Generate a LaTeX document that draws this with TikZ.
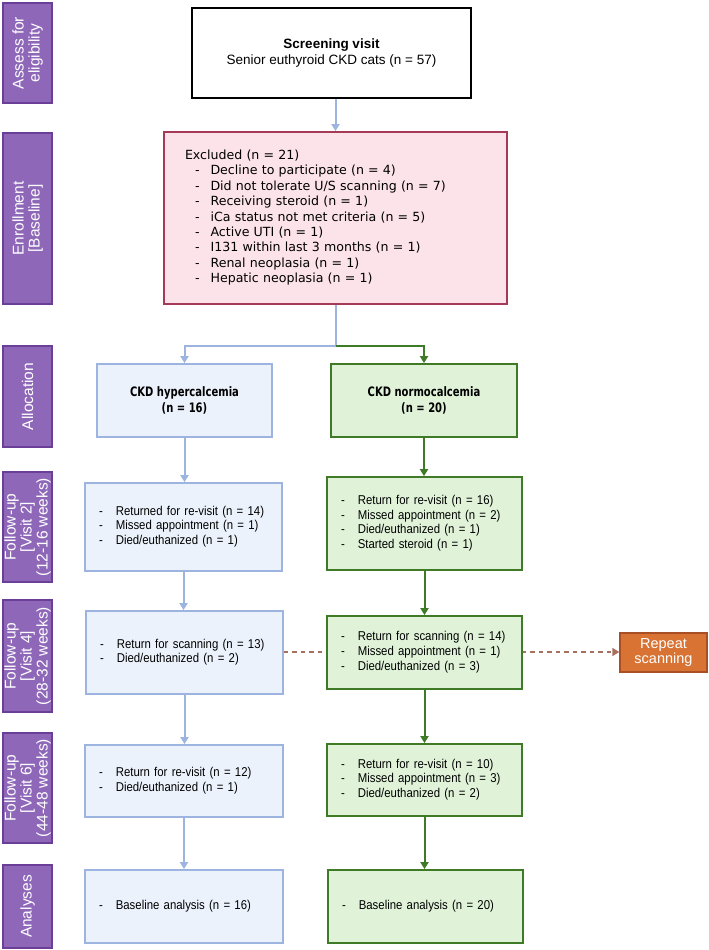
\documentclass[tikz,border=0pt]{standalone}
\usepackage{fontspec}
\setmainfont{Liberation Sans}
\newfontfamily\dejavu{DejaVu Sans}
\newfontfamily\dejavucond[FakeStretch=0.77]{DejaVu Sans}
\newfontfamily\narrowsans[FakeStretch=0.89]{Liberation Sans}
\usetikzlibrary{arrows.meta,backgrounds,calc}
\definecolor{purp}{HTML}{8F67B8}
\definecolor{purpd}{HTML}{6B3E98}
\definecolor{bfill}{HTML}{EBF2FB}
\definecolor{bline}{HTML}{9DB4E0}
\definecolor{gfill}{HTML}{E0F3D9}
\definecolor{gline}{HTML}{3F7B27}
\definecolor{pfill}{HTML}{FBE3E9}
\definecolor{pline}{HTML}{A53A58}
\definecolor{ofill}{HTML}{D97334}
\definecolor{oline}{HTML}{A84F25}
\definecolor{dashc}{HTML}{A8705E}
\tikzset{
  stagebox/.style={draw=purpd, fill=purp, line width=1.3pt, text=white, rotate=90,
    align=center, inner sep=0pt, font=\fontsize{15.5}{16}\selectfont},
  listbox/.style={line width=1.8pt, inner ysep=0pt, inner xsep=14pt, align=left,
    font=\narrowsans\fontsize{12.8}{14.6}\selectfont},
  bluebox/.style={listbox, draw=bline, fill=bfill},
  greenbox/.style={listbox, draw=gline, fill=gfill},
  blueflow/.style={draw=bline, line width=2pt, -{Triangle[width=8pt,length=7pt]}},
  greenflow/.style={draw=gline, line width=2pt, -{Triangle[width=8pt,length=7pt]}},
}
\newcommand{\dashlist}[1]{\begin{tabular}{@{}l@{\hspace{13pt}}l@{}}#1\end{tabular}}
\begin{document}
\begin{tikzpicture}[x=1pt,y=-1pt]
\useasboundingbox (0,0) rectangle (709,950);
% stage labels
\node[stagebox, minimum width=100pt, minimum height=49pt] (s1) at (27.5,53) {Assess for\\eligibility};
\node[stagebox, minimum width=171pt, minimum height=49pt] (s2) at (27.5,218.5) {Enrollment\\{[Baseline]}};
\node[stagebox, minimum width=101pt, minimum height=49pt] (s3) at (27.5,396.5) {Allocation};
\node[stagebox, minimum width=110pt, minimum height=49pt] (s4) at (27.5,527) {Follow-up\\{[Visit 2]}\\(12-16 weeks)};
\node[stagebox, minimum width=112pt, minimum height=49pt] (s5) at (27.5,656) {Follow-up\\{[Visit 4]}\\(28-32 weeks)};
\node[stagebox, minimum width=110pt, minimum height=49pt] (s6) at (27.5,788) {Follow-up\\{[Visit 6]}\\(44-48 weeks)};
\node[stagebox, minimum width=83pt, minimum height=49pt] (s7) at (27.5,906.5) {Analyses};

% screening
\node[draw=black, line width=1.8pt, fill=white, minimum width=279pt, minimum height=90pt,
  align=center, font=\fontsize{13.5}{16}\selectfont] (scr) at (331.5,53)
  {\textbf{Screening visit}\\Senior euthyroid CKD cats (n = 57)};

% excluded
\node[draw=pline, fill=pfill, line width=1.8pt, minimum height=172pt, text width=301pt,
  inner xsep=21pt, inner ysep=0pt, align=left, font=\dejavu\fontsize{12.6}{15.4}\selectfont] (exc) at (335.5,218)
  {\begin{tabular}{@{}l@{\hspace{11pt}}l@{}}
  \multicolumn{2}{@{}l@{}}{Excluded (n = 21)}\\
  \hspace*{10pt}- & Decline to participate (n = 4)\\
  \hspace*{10pt}- & Did not tolerate U/S scanning (n = 7)\\
  \hspace*{10pt}- & Receiving steroid (n = 1)\\
  \hspace*{10pt}- & iCa status not met criteria (n = 5)\\
  \hspace*{10pt}- & Active UTI (n = 1)\\
  \hspace*{10pt}- & I131 within last 3 months (n = 1)\\
  \hspace*{10pt}- & Renal neoplasia (n = 1)\\
  \hspace*{10pt}- & Hepatic neoplasia (n = 1)
  \end{tabular}};

% allocation
\node[draw=bline, fill=bfill, line width=1.8pt, minimum width=175pt, minimum height=73pt,
  align=center, font=\dejavucond\bfseries\fontsize{13}{16}\selectfont] (hyp) at (184.5,400.5)
  {CKD hypercalcemia\\(n = 16)};
\node[draw=gline, fill=gfill, line width=1.8pt, minimum width=186pt, minimum height=73pt,
  align=center, font=\dejavucond\bfseries\fontsize{13}{16}\selectfont] (nor) at (424,400.5)
  {CKD normocalcemia\\(n = 20)};

% visit 2
\node[bluebox, text width=169pt, minimum height=88pt] (b2) at (183.5,527)
  {\dashlist{- & Returned for re-visit (n = 14)\\ - & Missed appointment (n = 1)\\ - & Died/euthanized (n = 1)}};
\node[greenbox, text width=167pt, minimum height=93pt] (g2) at (424.5,523.5)
  {\dashlist{- & Return for re-visit (n = 16)\\ - & Missed appointment (n = 2)\\ - & Died/euthanized (n = 1)\\ - & Started steroid (n = 1)}};

% visit 4
\node[bluebox, text width=169pt, minimum height=83pt] (b4) at (184.5,652.5)
  {\dashlist{- & Return for scanning (n = 13)\\ - & Died/euthanized (n = 2)}};
\node[greenbox, text width=167pt, minimum height=73pt] (g4) at (424.5,652.5)
  {\dashlist{- & Return for scanning (n = 14)\\ - & Missed appointment (n = 1)\\ - & Died/euthanized (n = 3)}};
\node[draw=oline, fill=ofill, line width=1.3pt, text=white, minimum width=87pt, minimum height=39pt,
  align=center, inner sep=0pt, font=\fontsize{14.5}{15}\selectfont] (rep) at (663.5,652.5)
  {Repeat\\scanning};

% visit 6
\node[bluebox, text width=170pt, minimum height=72pt] (b6) at (184,781)
  {\dashlist{- & Return for re-visit (n = 12)\\ - & Died/euthanized (n = 1)}};
\node[greenbox, text width=167pt, minimum height=72pt] (g6) at (424.5,780)
  {\dashlist{- & Return for re-visit (n = 10)\\ - & Missed appointment (n = 3)\\ - & Died/euthanized (n = 2)}};

% analyses
\node[bluebox, text width=170pt, minimum height=73pt] (b8) at (184,906.5)
  {\dashlist{- & Baseline analysis (n = 16)}};
\node[greenbox, text width=167pt, minimum height=73pt] (g8) at (425.5,906.5)
  {\dashlist{- & Baseline analysis (n = 20)}};

% connectors
\coordinate (br) at ($(exc.south)+(0,41)$);
\begin{scope}[on background layer]
\draw[dashc, line width=1.5pt, dash pattern=on 4.5pt off 4pt, -{Triangle[width=8pt,length=7pt]}]
  (b4.east |- 0,652) -- (rep.west |- 0,652);
\end{scope}
\draw[blueflow] (exc.north |- scr.south) -- (exc.north);
\draw[draw=bline, line width=2pt] (exc.south) -- (br);
\draw[blueflow] (br) -| (hyp.north);
\draw[greenflow] (br) -| (nor.north);
\draw[blueflow] (hyp.south) -- (hyp.south |- b2.north);
\draw[blueflow] (b2.south) -- (b2.south |- b4.north);
\draw[blueflow] (b4.south) -- (b4.south |- b6.north);
\draw[blueflow] (b6.south) -- (b6.south |- b8.north);
\draw[greenflow] (nor.south) -- (nor.south |- g2.north);
\draw[greenflow] (g2.south) -- (g2.south |- g4.north);
\draw[greenflow] (g4.south) -- (g4.south |- g6.north);
\draw[greenflow] (g6.south) -- (g6.south |- g8.north);
\end{tikzpicture}
\end{document}
